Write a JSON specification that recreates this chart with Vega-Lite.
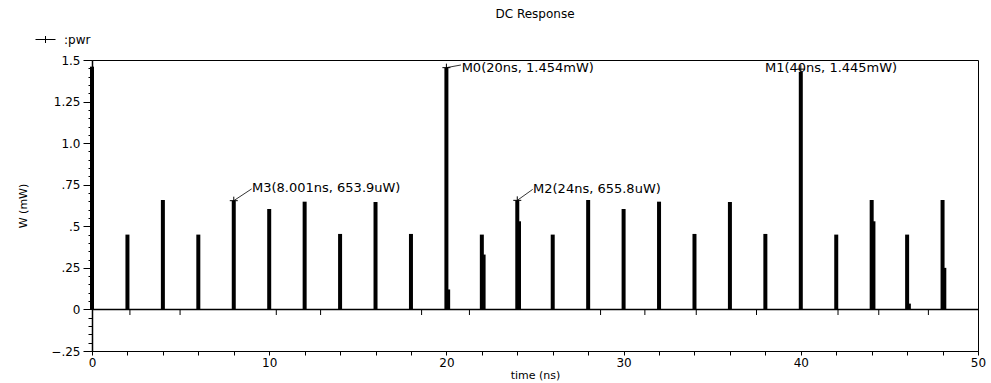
{
  "$schema": "https://vega.github.io/schema/vega-lite/v6.json",
  "width": 886,
  "height": 291,
  "autosize": {"type": "none"},
  "padding": {"left": 92, "top": 60, "right": 13, "bottom": 32},
  "background": "white",
  "title": {"text": "DC Response", "fontSize": 12, "font": "DejaVu Sans", "fontWeight": "normal", "offset": 8, "anchor": "middle", "color": "black", "frame": "group"},
  "config": {
    "view": {"stroke": "black", "strokeWidth": 1},
    "font": "DejaVu Sans",
    "legend": {"padding": 0},
    "axis": {
      "grid": false,
      "labelOverlap": false,
      "labelFlush": false,
      "tickCount": 200,
      "tickColor": "black",
      "domainColor": "black",
      "labelColor": "black",
      "titleColor": "black",
      "labelFontSize": 12,
      "titleFontSize": 11,
      "titleFontWeight": "normal"
    },
    "axisX": {"tickSize": 4, "labelPadding": 2, "titlePadding": 1},
    "axisY": {"tickSize": 5, "labelPadding": 3, "titlePadding": 22, "domainWidth": 1.5}
  },
  "datasets": {
    "pulses": [
      {"t": 0, "peak": 1.46},
      {"t": 2, "peak": 0.45},
      {"t": 4, "peak": 0.658},
      {"t": 6, "peak": 0.45},
      {"t": 8, "peak": 0.654},
      {"t": 10, "peak": 0.604},
      {"t": 12, "peak": 0.648},
      {"t": 14, "peak": 0.454},
      {"t": 16, "peak": 0.646},
      {"t": 18, "peak": 0.454},
      {"t": 20, "peak": 1.454, "tail": 0.12},
      {"t": 22, "peak": 0.45, "tail": 0.33},
      {"t": 24, "peak": 0.656, "tail": 0.53},
      {"t": 26, "peak": 0.45},
      {"t": 28, "peak": 0.658},
      {"t": 30, "peak": 0.604},
      {"t": 32, "peak": 0.648},
      {"t": 34, "peak": 0.454},
      {"t": 36, "peak": 0.646},
      {"t": 38, "peak": 0.454},
      {"t": 40, "peak": 1.43},
      {"t": 42, "peak": 0.45},
      {"t": 44, "peak": 0.658, "tail": 0.53},
      {"t": 46, "peak": 0.45, "tail": 0.035},
      {"t": 48, "peak": 0.658, "tail": 0.25}
    ],
    "markers": [
      {"name": "M0", "label": "M0(20ns, 1.454mW)", "t": 20, "v": 1.454, "tx": 20.86, "ty": 1.452, "lx": 20.82, "ly": 1.47},
      {"name": "M1", "label": "M1(40ns, 1.445mW)", "t": 40, "v": 1.445, "tx": 37.98, "ty": 1.452},
      {"name": "M2", "label": "M2(24ns, 655.8uW)", "t": 24, "v": 0.656, "tx": 24.89, "ty": 0.726, "lx": 24.87, "ly": 0.722},
      {"name": "M3", "label": "M3(8.001ns, 653.9uW)", "t": 8.001, "v": 0.654, "tx": 9.03, "ty": 0.729, "lx": 9.01, "ly": 0.725}
    ],
    "base": [
      {"t": 2.14, "v": 0}, {"t": 4.97, "v": 0}, {"t": 10.4, "v": 0}, {"t": 12.9, "v": 0}, {"t": 18.6, "v": 0}, {"t": 21.3, "v": 0},
      {"t": 28.7, "v": 0}, {"t": 31.2, "v": 0}, {"t": 34.1, "v": 0}, {"t": 37.5, "v": 0}, {"t": 42.1, "v": 0}, {"t": 44.4, "v": 0}, {"t": 47.2, "v": 0}
    ],
    "zero": [{"v": 0}]
  },
  "layer": [
    {
      "data": {"name": "pulses"},
      "mark": {"type": "rule", "strokeWidth": 4},
      "encoding": {
        "x": {
          "field": "t", "type": "quantitative", "title": "time (ns)",
          "scale": {"domain": [0, 50], "nice": false, "zero": false},
          "axis": {
            "title": "time (ns)",
            "values": [0,2,4,6,8,10,12,14,16,18,20,22,24,26,28,30,32,34,36,38,40,42,44,46,48,50],
            "labelExpr": "datum.value % 10 === 0 ? '' + datum.value : ''",
            "labelOverlap": false,
            "tickCount": 200
          }
        },
        "y": {
          "field": "peak", "type": "quantitative", "title": "W (mW)",
          "scale": {"domain": [-0.25, 1.5], "nice": false, "zero": false},
          "axis": {
            "title": "W (mW)",
            "values": [-0.25,-0.2,-0.15,-0.1,-0.05,0,0.05,0.1,0.15,0.2,0.25,0.3,0.35,0.4,0.45,0.5,0.55,0.6,0.65,0.7,0.75,0.8,0.85,0.9,0.95,1,1.05,1.1,1.15,1.2,1.25,1.3,1.35,1.4,1.45,1.5],
            "labelExpr": "datum.value === 1.5 ? '1.5' : datum.value === 1.25 ? '1.25' : datum.value === 1 ? '1.0' : datum.value === 0.75 ? '.75' : datum.value === 0.5 ? '.5' : datum.value === 0.25 ? '.25' : datum.value === 0 ? '0' : datum.value === -0.25 ? '\u2212.25' : ''",
            "labelOverlap": false,
            "tickCount": 200,
            "tickSize": {"condition": {"test": "datum.value % 0.25 === 0", "value": 9}, "value": 4}
          }
        },
        "y2": {"datum": 0},
        "color": {
          "datum": "pwr",
          "scale": {"range": ["black"]},
          "legend": {
            "title": null,
            "orient": "none",
            "legendX": -57,
            "legendY": -31,
            "symbolType": "M-1,0H1M0,-0.35V0.35",
            "symbolSize": 400,
            "symbolStrokeWidth": 1,
            "symbolStrokeColor": "black",
            "symbolFillColor": "transparent",
            "labelExpr": "':' + datum.label",
            "labelFontSize": 12,
            "labelOffset": 8,
            "labelColor": "black",
            "padding": 0
          }
        }
      }
    },
    {
      "data": {"name": "pulses"},
      "transform": [{"filter": "isValid(datum.tail)"}],
      "mark": {"type": "rule", "strokeWidth": 2.5, "xOffset": 2.5, "color": "black"},
      "encoding": {
        "x": {"field": "t", "type": "quantitative", "title": "time (ns)"},
        "y": {"field": "tail", "type": "quantitative", "title": "W (mW)"},
        "y2": {"datum": 0}
      }
    },
    {
      "data": {"name": "zero"},
      "mark": {"type": "rule", "strokeWidth": 1.5, "color": "black"},
      "encoding": {
        "y": {"field": "v", "type": "quantitative", "title": "W (mW)"}
      }
    },
    {
      "data": {"name": "base"},
      "mark": {"type": "tick", "orient": "vertical", "size": 5, "thickness": 1, "color": "black", "yOffset": 3, "opacity": 1},
      "encoding": {
        "x": {"field": "t", "type": "quantitative", "title": "time (ns)"},
        "y": {"field": "v", "type": "quantitative", "title": "W (mW)"}
      }
    },
    {
      "data": {"name": "markers"},
      "transform": [{"filter": "isValid(datum.lx)"}],
      "mark": {"type": "rule", "strokeWidth": 0.8, "color": "black"},
      "encoding": {
        "x": {"field": "t", "type": "quantitative", "title": "time (ns)"},
        "y": {"field": "v", "type": "quantitative", "title": "W (mW)"},
        "x2": {"field": "lx"},
        "y2": {"field": "ly"}
      }
    },
    {
      "data": {"name": "markers"},
      "mark": {"type": "point", "shape": "M-1,0H1M0,-1V1", "size": 64, "filled": false, "stroke": "black", "strokeWidth": 1, "opacity": 1},
      "encoding": {
        "x": {"field": "t", "type": "quantitative", "title": "time (ns)"},
        "y": {"field": "v", "type": "quantitative", "title": "W (mW)"}
      }
    },
    {
      "data": {"name": "markers"},
      "mark": {"type": "text", "align": "left", "baseline": "middle", "fontSize": 13, "font": "DejaVu Sans", "color": "black"},
      "encoding": {
        "x": {"field": "tx", "type": "quantitative", "title": "time (ns)"},
        "y": {"field": "ty", "type": "quantitative", "title": "W (mW)"},
        "text": {"field": "label"}
      }
    }
  ]
}
